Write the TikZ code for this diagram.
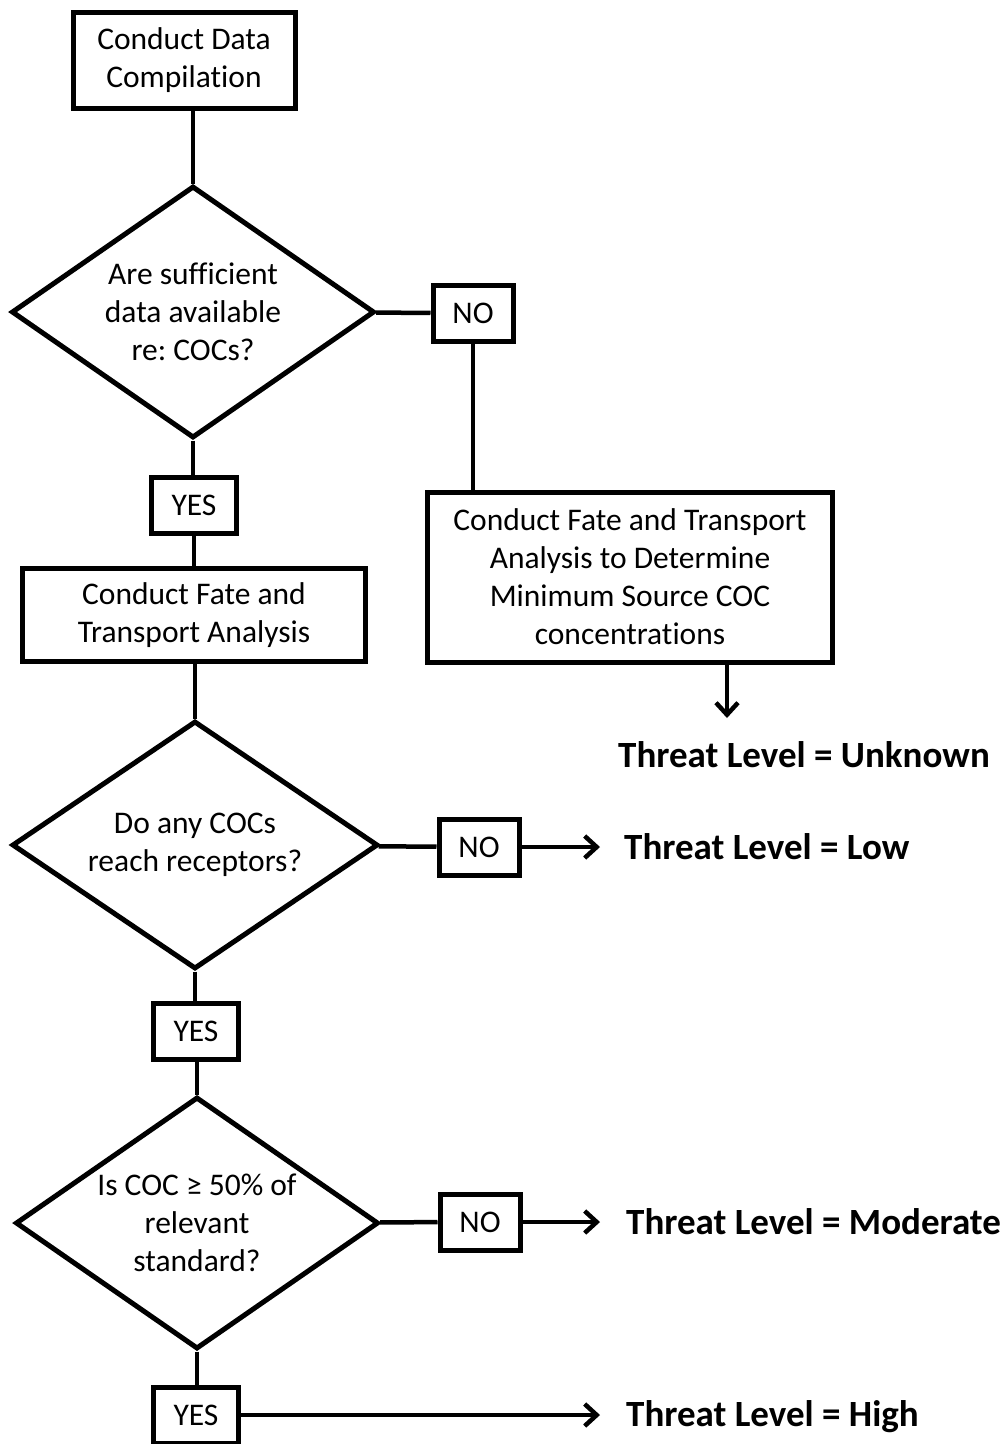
\documentclass[tikz,border=0pt]{standalone}
\usepackage{fontspec}
\setmainfont{Carlito}[Ligatures=NoCommon]
\usetikzlibrary{shapes.geometric,arrows.meta}
\frenchspacing

\begin{document}
\begin{tikzpicture}[x=1pt, y=-1pt,
    box/.style={draw, line width=5pt, align=center, inner sep=0pt,
                font=\fontsize{31.5}{38}\selectfont},
    answer/.style={box, minimum width=80, minimum height=56},
    decision/.style={diamond, draw, line width=5pt, align=center, inner sep=0pt,
                aspect=1.45, font=\fontsize{31.5}{38}\selectfont},
    threat/.style={anchor=west, inner sep=0pt, font=\fontsize{37}{40}\selectfont\bfseries},
    link/.style={line width=4.5pt},
    arr/.style={link, -{Straight Barb[length=12pt, width=22pt]}}]
        \useasboundingbox (0,0) rectangle (1006,1444);

        \node[box, minimum width=222, minimum height=96] (compile) at (184,60) {Conduct Data\\Compilation};
        \node[decision, minimum width=363, minimum height=252] (enough) at (193,312) {Are sufficient\\data available\\re: COCs?};
        \node[answer] (no1) at (473,313) {NO};
        \node[answer, minimum width=85] (yes1) at (194,505) {YES};
        \node[box, minimum width=405, minimum height=170] (minsource) at (630,577)
            {Conduct Fate and Transport\\Analysis to Determine\\Minimum Source COC\\concentrations};
        \node[box, minimum width=343, minimum height=93] (fate) at (194,615) {Conduct Fate and\\Transport Analysis};
        \node[decision, minimum width=366, minimum height=248] (reach) at (195,845) {Do any COCs\\reach receptors?};
        \node[answer] (no2) at (479,847) {NO};
        \node[answer, minimum width=85] (yes2) at (196,1031) {YES};
        \node[decision, minimum width=363, minimum height=252] (exceed) at (197,1223) {Is COC ≥ 50\% of\\relevant\\standard?};
        \node[answer] (no3) at (480,1222) {NO};
        \node[answer, minimum width=85] (yes3) at (196,1415) {YES};

        \node[threat] (unknown) at (618,755) {Threat Level = Unknown};
        \node[threat] (low) at (624,847) {Threat Level = Low};
        \node[threat] (moderate) at (626,1222) {Threat Level = Moderate};
        \node[threat] (high) at (626,1417) {Threat Level = High};
        \coordinate (drop) at (727,718);

        \draw[link] (compile.south -| enough.north) -- (enough.north);
        \draw[link] (enough) -- (no1);
        \draw[link] (no1) -- (no1 |- minsource.north);
        \draw[arr] (minsource.south -| drop) -- (drop);
        \draw[link] (enough.south) -- (enough.south |- yes1.north);
        \draw[link] (yes1) -- (yes1 |- fate.north);
        \draw[link] (fate.south -| reach.north) -- (reach.north);
        \draw[link] (reach) -- (no2);
        \draw[arr, shorten >=24pt] (no2) -- (low);
        \draw[link] (reach.south) -- (reach.south |- yes2.north);
        \draw[link] (yes2.south -| exceed.north) -- (exceed.north);
        \draw[link] (exceed) -- (no3);
        \draw[arr, shorten >=26pt] (no3) -- (moderate);
        \draw[link] (exceed.south) -- (exceed.south |- yes3.north);
        \draw[arr, shorten >=26pt] (yes3) -- (yes3 -| high.west);
\end{tikzpicture}
\end{document}
